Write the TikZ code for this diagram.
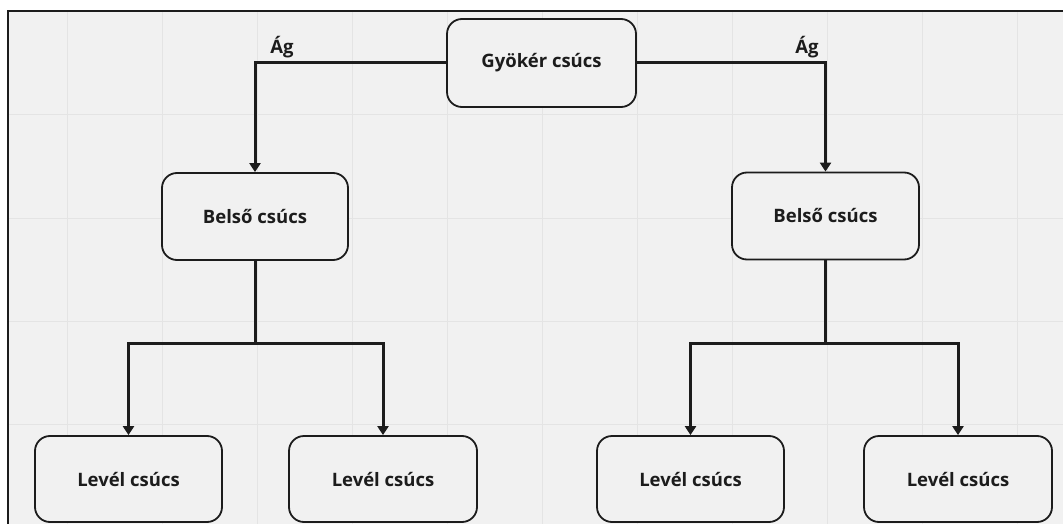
\documentclass[tikz,border=0pt]{standalone}
\usepackage{fontspec}
\setmainfont{Open Sans}
\usetikzlibrary{arrows.meta}
\definecolor{bg}{HTML}{F1F1F1}
\definecolor{gridc}{HTML}{E4E4E4}
\definecolor{ink}{HTML}{1C1C1C}
\tikzset{
  treenode/.style={draw=ink, line width=1.8pt, rounded corners=15pt, fill=bg,
    minimum width=#1, inner sep=0pt, font=\fontsize{18.5}{22}\selectfont\bfseries, text=ink},
  treenode/.default=187pt,
  conn/.style={draw=ink, line width=3pt, -{Triangle[width=11pt,length=9pt]}},
  connplain/.style={draw=ink, line width=3pt},
  edgelabel/.style={font=\fontsize{18.5}{22}\selectfont\bfseries, text=ink, inner sep=0pt}
}
\begin{document}
\begin{tikzpicture}[x=1pt,y=-1pt]
\useasboundingbox (0,0) rectangle (1063,524);
\fill[white] (0,0) rectangle (1063,524);
\fill[bg] (8,11) rectangle (1063,524);
% grid
\foreach \gx in {67,162,257,352,447,542,637,732,827,922,1017}
  \draw[gridc, line width=1pt] (\gx,12) -- (\gx,524);
\foreach \gy in {115,218,321,424}
  \draw[gridc, line width=1pt] (9,\gy) -- (1063,\gy);
% frame
\draw[ink, line width=2pt] (8,530) -- (8,11) -- (1070,11);
% nodes
\node[treenode=189pt, minimum height=88pt] (root) at (541.5,63) {Gyökér csúcs};
\node[treenode=186pt, minimum height=87pt] (bl) at (255,216.5) {Belső csúcs};
\node[treenode=187pt, minimum height=87pt] (br) at (825.5,216) {Belső csúcs};
\node[treenode=187pt, minimum height=86pt] (l1) at (128.5,479) {Levél csúcs};
\node[treenode=188pt, minimum height=86pt] (l2) at (383,479) {Levél csúcs};
\node[treenode=187pt, minimum height=86pt] (l3) at (690.5,479) {Levél csúcs};
\node[treenode=188pt, minimum height=86pt] (l4) at (958,479) {Levél csúcs};
% connectors
\draw[conn] (root.west) -| (bl.north);
\draw[conn] (root.east) -| (br.north);
\node[edgelabel] (lab1) at (282,47) {Ág};
\node[edgelabel] (lab2) at (807,47) {Ág};
\coordinate (jl) at (255,343);
\coordinate (jr) at (825.5,343);
\draw[connplain] (bl.south) -- (jl);
\draw[connplain] (br.south) -- (jr);
\draw[conn] (jl) -| (l1.north);
\draw[conn] (jl) -| (l2.north);
\draw[conn] (jr) -| (l3.north);
\draw[conn] (jr) -| (l4.north);
\end{tikzpicture}
\end{document}
